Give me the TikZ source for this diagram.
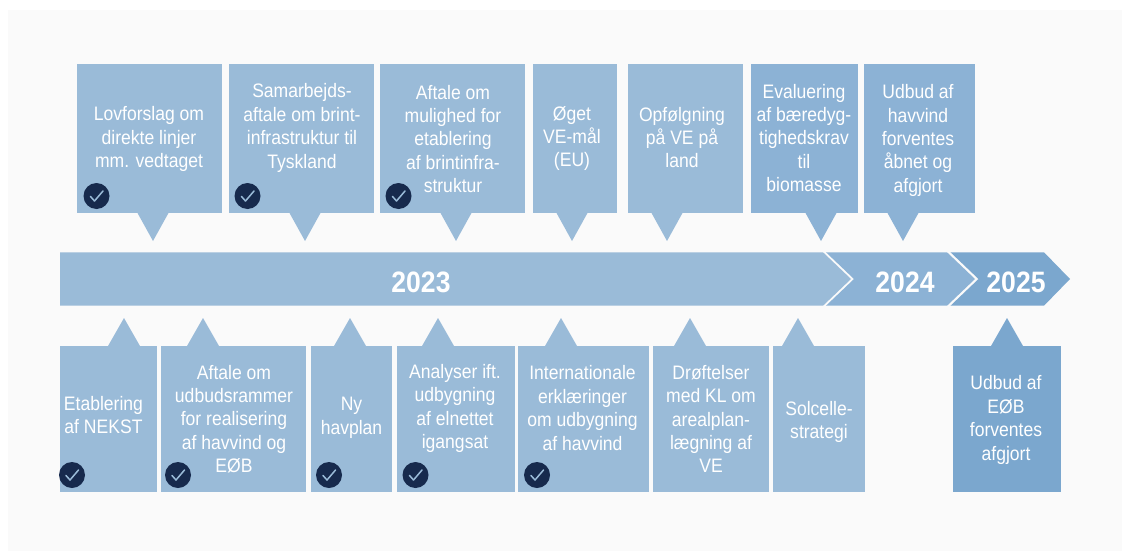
\documentclass[tikz,border=0pt]{standalone}
\usepackage{fontspec}
\setmainfont[FakeStretch=0.9,BoldFont={Liberation Sans Bold}]{Liberation Sans}
\definecolor{bgc}{HTML}{FAFAFA}
\definecolor{ca}{HTML}{9ABBD8}
\definecolor{cb}{HTML}{8CB2D5}
\definecolor{cc}{HTML}{7BA7CE}
\definecolor{navy}{HTML}{172A4D}
\tikzset{
  x=1pt,y=-1pt,
  boxtext/.style={text=white,align=center,font=\fontsize{19.5}{23.4}\selectfont,inner sep=0pt},
  yeartext/.style={text=white,font=\fontsize{29.5}{32}\selectfont\bfseries,inner sep=0pt},
  checkmark/.style={draw=ca,line width=1.5pt,line cap=round,line join=round},
}
% name, x0, x1, tip, colour, text centre x, text centre y, text
\newcommand{\topbox}[8]{%
  \fill[#5] (#2,64) rectangle (#3,213);
  \fill[#5] ({#4-15.5},213) -- (#4,241) -- ({#4+15.5},213) -- cycle;
  \node[boxtext] (#1) at (#6,#7) {#8};
}
\newcommand{\botbox}[8]{%
  \fill[#5] (#2,346) rectangle (#3,492);
  \fill[#5] ({#4-16},346) -- (#4,318) -- ({#4+16},346) -- cycle;
  \node[boxtext] (#1) at (#6,#7) {#8};
}
\newcommand{\checkicon}[3]{%
  \node[circle,fill=navy,minimum size=26pt,inner sep=0pt] (#1) at (#2,#3) {};
  \draw[checkmark] ({#2-6},{#3+0.5}) -- ({#2-2},{#3+5}) -- ({#2+6.5},{#3-5});
}
\begin{document}
\begin{tikzpicture}
\useasboundingbox (0,0) rectangle (1126,551);
\fill[white] (0,0) rectangle (1126,551);
\fill[bgc] (8,10) rectangle (1122,551);
% arrow
\fill[ca] (60,252.3) -- (823,252.3) -- (851,279) -- (823,305.7) -- (60,305.7) -- cycle;
\fill[cb] (826,252.3) -- (947,252.3) -- (975,279) -- (947,305.7) -- (826,305.7) -- (854,279) -- cycle;
\fill[cc] (950.5,252.3) -- (1044,252.3) -- (1070,279) -- (1044,305.7) -- (950.5,305.7) -- (978.5,279) -- cycle;
\node[yeartext] (y23) at (421,282) {2023};
\node[yeartext] (y24) at (905,282) {2024};
\node[yeartext] (y25) at (1016,282) {2025};
% top boxes
\topbox{t1}{77}{222}{153}{ca}{149}{139}{Lovforslag om\\direkte linjer\\mm. vedtaget}
\topbox{t2}{229}{374}{305}{ca}{302}{128}{Samarbejds-\\aftale om brint-\\infrastruktur til\\Tyskland}
\topbox{t3}{380}{525}{456}{ca}{453}{139}{Aftale om\\mulighed for\\etablering\\af brintinfra-\\struktur}
\topbox{t4}{533}{617}{572}{ca}{572}{138.5}{Øget\\VE-mål\\(EU)}
\topbox{t5}{628}{743}{667}{ca}{682}{137.5}{Opfølgning\\på VE på\\land}
\topbox{t6}{751}{858}{821}{cb}{804}{138}{Evaluering\\af bæredyg-\\tighedskrav\\til\\biomasse}
\topbox{t7}{864}{975}{903}{cb}{918}{140.5}{Udbud af\\havvind\\forventes\\åbnet og\\afgjort}
% bottom boxes
\botbox{b1}{60}{157}{124}{ca}{103.5}{415}{Etablering\\af NEKST}
\botbox{b2}{161}{306}{203}{ca}{234}{419}{Aftale om\\udbudsrammer\\for realisering\\af havvind og\\EØB}
\botbox{b3}{311}{392}{350}{ca}{351.5}{418}{Ny\\havplan}
\botbox{b4}{397}{515}{438}{ca}{455}{408.5}{Analyser ift.\\udbygning\\af elnettet\\igangsat}
\botbox{b5}{518}{649}{561}{ca}{582.5}{408}{Internationale\\erklæringer\\om udbygning\\af havvind}
\botbox{b6}{653}{769}{690}{ca}{711}{419}{Drøftelser\\med KL om\\arealplan-\\lægning af\\VE}
\botbox{b7}{773}{865}{798}{ca}{819}{422}{Solcelle-\\strategi}
\botbox{b8}{953}{1061}{1007}{cc}{1006}{420}{Udbud af\\EØB\\forventes\\afgjort}
% check marks
\checkicon{c1}{96.5}{196}
\checkicon{c2}{247.5}{196}
\checkicon{c3}{398.5}{196}
\checkicon{c4}{72}{475}
\checkicon{c5}{178}{475}
\checkicon{c6}{329}{475}
\checkicon{c7}{415.5}{475}
\checkicon{c8}{537}{475}
\end{tikzpicture}
\end{document}
